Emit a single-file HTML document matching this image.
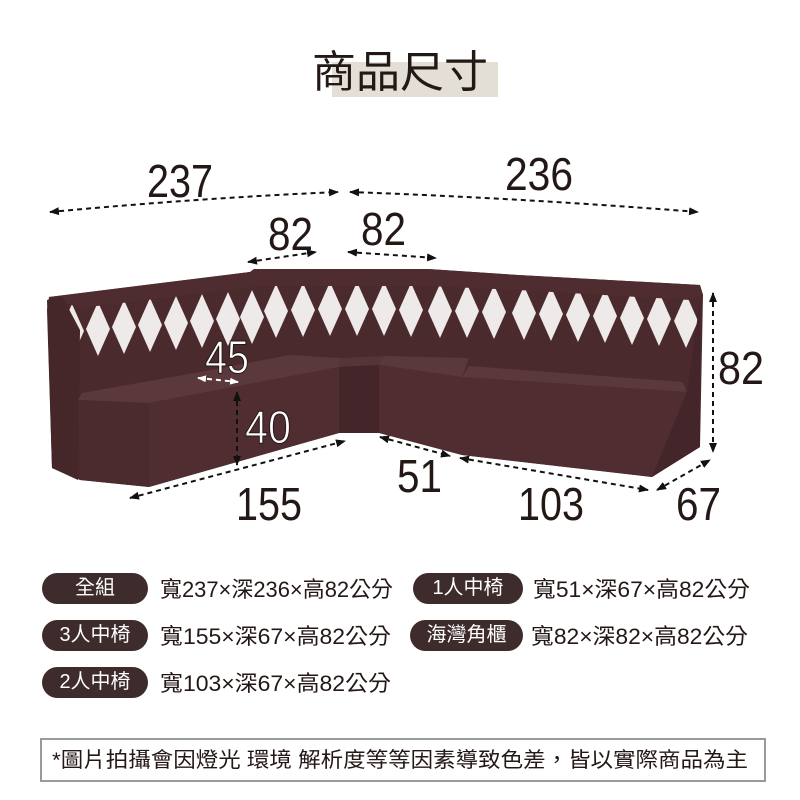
<!DOCTYPE html>
<html><head><meta charset="utf-8"><style>
body{margin:0;width:800px;height:800px;background:#fff;overflow:hidden;position:relative;font-family:"Liberation Sans","Noto Sans CJK TC",sans-serif}
.t{position:absolute;left:312px;top:36px;font-size:44px;color:#231815;font-family:"Liberation Sans","Noto Sans CJK TC",sans-serif;z-index:2}
.bg{position:absolute;left:332px;top:62px;width:166px;height:35px;background:#e4dfd6}
.pill{position:absolute;height:31px;background:#3e2b2b;color:#fff;border-radius:16px;font-size:20px;line-height:31px;text-align:center}
.foot{position:absolute;left:40px;top:738px;width:722px;height:40px;border:2px solid #9a9a9a}
</style></head><body>
<div class="bg"></div><div class="t">商品尺寸</div>
<div class="foot"></div>
<svg width="800" height="800" style="position:absolute;left:0;top:0">
<defs>
<marker id="a" markerWidth="10" markerHeight="8" refX="9" refY="4" orient="auto" markerUnits="userSpaceOnUse"><path d="M0,0 L10,4 L0,8 z" fill="#111"/></marker>
<marker id="b" markerWidth="10" markerHeight="8" refX="1" refY="4" orient="auto" markerUnits="userSpaceOnUse"><path d="M10,0 L0,4 L10,8 z" fill="#111"/></marker>
<marker id="w" markerWidth="9" markerHeight="7" refX="8" refY="3.5" orient="auto" markerUnits="userSpaceOnUse"><path d="M0,0 L9,3.5 L0,7 z" fill="#fff"/></marker>
<marker id="wb" markerWidth="9" markerHeight="7" refX="1" refY="3.5" orient="auto" markerUnits="userSpaceOnUse"><path d="M9,0 L0,3.5 L9,7 z" fill="#fff"/></marker>
<polygon id="d" points="0,-27 12,0 0,27 -12,0" fill="#efeaea"/>
</defs>
<polygon points="49,297 250,272 254,269 428,269 518,275 700,285 703,295 700,447 652,477 462,455 379,433 339,433 149,487 80,480 52,468 47,310" fill="#4a2a2d"/>
<g>
<use href="#d" x="72" y="331"/><use href="#d" x="98" y="329"/><use href="#d" x="124" y="327"/><use href="#d" x="150" y="325"/><use href="#d" x="176" y="323"/><use href="#d" x="202" y="321"/><use href="#d" x="228" y="319"/><use href="#d" x="252" y="317"/>
<use href="#d" x="276" y="311"/><use href="#d" x="303" y="310"/><use href="#d" x="330" y="309"/><use href="#d" x="357" y="309"/><use href="#d" x="384" y="309"/><use href="#d" x="411" y="310"/>
<use href="#d" x="440" y="311"/><use href="#d" x="467" y="311"/><use href="#d" x="494" y="312"/>
<use href="#d" x="524" y="313"/><use href="#d" x="551" y="314"/><use href="#d" x="578" y="315"/><use href="#d" x="605" y="316"/><use href="#d" x="632" y="318"/><use href="#d" x="659" y="319"/><use href="#d" x="686" y="321"/>
</g>
<polygon points="49,297 250,272 254,269 428,269 518,275 700,285 703,295 690,300 518,290 428,286 262,286 80,308" fill="#4e2c2f"/>
<polygon points="47,300 62,296 80,330 78,480 52,468" fill="#452629"/>
<polygon points="80,372 250,346 262,340 340,340 430,345 518,352 690,362 690,392 80,398" fill="#4a2a2d"/>
<polygon points="78,400 82,393 194,373 290,355 339,358 339,367 149,403" fill="#5b383b"/>
<polygon points="339,358 384,356 379,365 339,367" fill="#573437"/>
<polygon points="379,365 384,356 469,358 462,377" fill="#5b383b"/>
<polygon points="462,377 469,366 683,382 687,392" fill="#5b383b"/>
<polygon points="78,400 149,403 149,487 80,480" fill="#4c2b2e"/>
<polygon points="149,403 339,367 339,433 149,487" fill="#4f2d30"/>
<polygon points="339,367 379,365 379,433 339,433" fill="#43252a"/>
<polygon points="379,365 462,377 462,455 379,433" fill="#4f2d30"/>
<polygon points="462,377 687,392 652,477 462,455" fill="#4f2d30"/>
<polygon points="687,392 700,300 700,447 652,477" fill="#43252a"/>
<g stroke="#111" stroke-width="2" stroke-dasharray="5,4" fill="none">
<path d="M50,212 Q200,198 338,192" marker-start="url(#b)" marker-end="url(#a)"/>
<path d="M350,192 Q520,198 698,212" marker-start="url(#b)" marker-end="url(#a)"/>
<path d="M248,262 L316,252" marker-start="url(#b)" marker-end="url(#a)"/>
<path d="M348,252 L436,258" marker-start="url(#b)" marker-end="url(#a)"/>
<path d="M713,293 L713,452" marker-start="url(#b)" marker-end="url(#a)"/>
<path d="M237,392 L237,465" marker-start="url(#b)" marker-end="url(#a)"/>
<path d="M130,498 L345,441" marker-start="url(#b)" marker-end="url(#a)"/>
<path d="M380,437 L450,456" marker-start="url(#b)" marker-end="url(#a)"/>
<path d="M460,458 L648,490" marker-start="url(#b)" marker-end="url(#a)"/>
<path d="M657,490 L710,460" marker-start="url(#b)" marker-end="url(#a)"/>
</g>
<path d="M198,378 L238,382" stroke="#fff" stroke-width="2" stroke-dasharray="5,4" marker-start="url(#wb)" marker-end="url(#w)"/>
<g font-family="Liberation Sans, sans-serif" font-size="46" fill="#231815">
<text x="147" y="197" textLength="66" lengthAdjust="spacingAndGlyphs">237</text>
<text x="505" y="190" textLength="68" lengthAdjust="spacingAndGlyphs">236</text>
<text x="268" y="250" textLength="45" lengthAdjust="spacingAndGlyphs">82</text>
<text x="361" y="245" textLength="45" lengthAdjust="spacingAndGlyphs">82</text>
<text x="718" y="384" textLength="46" lengthAdjust="spacingAndGlyphs">82</text>
<text x="236" y="520" textLength="66" lengthAdjust="spacingAndGlyphs">155</text>
<text x="397" y="492" textLength="45" lengthAdjust="spacingAndGlyphs">51</text>
<text x="518" y="520" textLength="66" lengthAdjust="spacingAndGlyphs">103</text>
<text x="676" y="520" textLength="45" lengthAdjust="spacingAndGlyphs">67</text>
<text x="205" y="373" textLength="44" lengthAdjust="spacingAndGlyphs" fill="#fff" stroke="#231815" stroke-width="1">45</text>
<text x="245" y="443" textLength="46" lengthAdjust="spacingAndGlyphs" fill="#fff" stroke="#231815" stroke-width="1">40</text>
</g>
<g font-family="Liberation Sans, Noto Sans CJK TC, sans-serif" font-size="22" fill="#231815">
<text x="160" y="597" textLength="233" lengthAdjust="spacingAndGlyphs">寬237×深236×高82公分</text>
<text x="533" y="597" textLength="217" lengthAdjust="spacingAndGlyphs">寬51×深67×高82公分</text>
<text x="160" y="644" textLength="231" lengthAdjust="spacingAndGlyphs">寬155×深67×高82公分</text>
<text x="531" y="644" textLength="217" lengthAdjust="spacingAndGlyphs">寬82×深82×高82公分</text>
<text x="160" y="691" textLength="231" lengthAdjust="spacingAndGlyphs">寬103×深67×高82公分</text>
<text x="52" y="767" font-size="21" textLength="696" lengthAdjust="spacingAndGlyphs">*圖片拍攝會因燈光 環境 解析度等等因素導致色差，皆以實際商品為主</text>
</g>
</svg>
<div class="pill" style="left:42px;top:573px;width:106px">全組</div>
<div class="pill" style="left:413px;top:573px;width:110px">1人中椅</div>
<div class="pill" style="left:42px;top:620px;width:106px">3人中椅</div>
<div class="pill" style="left:410px;top:620px;width:113px">海灣角櫃</div>
<div class="pill" style="left:42px;top:667px;width:106px">2人中椅</div>
</body></html>
